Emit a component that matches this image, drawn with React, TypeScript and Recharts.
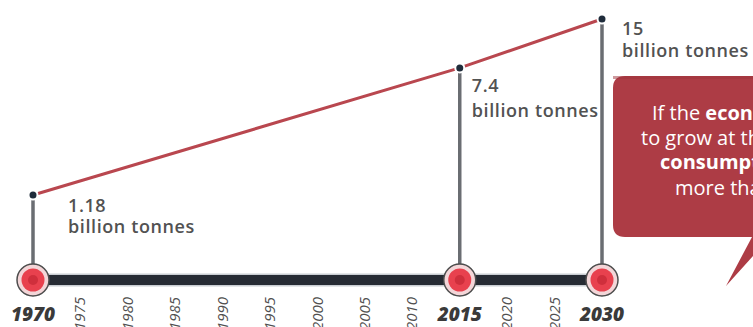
import { Customized, LabelList, Line, LineChart, ReferenceDot, ReferenceLine, XAxis, YAxis } from 'recharts'

const years = [1970, 2015, 2030]
const tonnes = [1.18, 7.4, 15]
const valueLabels = ['1.18', '7.4', '15']
const unitLabel = 'billion tonnes'
const tickYears = [1970, 1975, 1980, 1985, 1990, 1995, 2000, 2005, 2010, 2015, 2020, 2025, 2030]
const milestoneYears = [1970, 2015, 2030]
const calloutLines = [
	[{ t: 'If the ', b: false }, { t: 'economy continues', b: true }],
	[{ t: 'to grow at the current rate,', b: false }],
	[{ t: 'consumption will be', b: true }],
	[{ t: 'more than double', b: false }],
]

const data = years.map((year, i) => ({ year, tonnes: tonnes[i], label: valueLabels[i] }))

// log scale, the plot bottom sits on the timeline bar
const yMin = 0.3457
const yMax = 18.36

const labelOffsets = [
	{ dx: 35, dy1: 17, dy2: 38 },
	{ dx: 12, dy1: 24, dy2: 49 },
	{ dx: 20, dy1: 16, dy2: 38 },
]

const font = '"Open Sans", sans-serif'

const YearTick = (props: any) => {
	const { x, y, payload } = props
	const year = payload.value
	if (milestoneYears.includes(year)) {
		return (
			<text x={x} y={y + 41} textAnchor='middle' fontFamily={font} fontSize={19} fontWeight={800} fontStyle='italic' fill='#3a3a3a'>
				{year}
			</text>
		)
	}
	return (
		<text
			transform={`translate(${x + 5}, ${y + 17}) rotate(-90)`}
			textAnchor='end'
			fontFamily={font}
			fontSize={15}
			fontStyle='italic'
			fill='#505050'
		>
			{year}
		</text>
	)
}

const ValueLabel = (props: any) => {
	const { x, y, index } = props
	const o = labelOffsets[index]
	return (
		<g fontFamily={font} fontSize={18} fontWeight={600} fill='#525252' letterSpacing={0.6}>
			<text x={x + o.dx} y={y + o.dy1}>{valueLabels[index]}</text>
			<text x={x + o.dx} y={y + o.dy2}>{unitLabel}</text>
		</g>
	)
}

const PointDot = (props: any) => {
	const { cx, cy } = props
	return <circle cx={cx} cy={cy} r={4.5} fill='#1f2c3b' stroke='#ffffff' strokeWidth={2} />
}

const MilestoneMarker = (props: any) => {
	const { cx, cy } = props
	return (
		<g>
			<circle cx={cx} cy={cy} r={16} fill='#f3d6d8' stroke='#4d4d4d' strokeWidth={1.5} />
			<circle cx={cx} cy={cy} r={11.5} fill='#e8414e' />
			<circle cx={cx} cy={cy} r={5} fill='#cf2f3c' />
		</g>
	)
}

const Callout = () => {
	const starts = [652, 641, 660, 675]
	const baselines = [120, 145, 169, 195]
	return (
		<g>
			<path d='M625,76 H800 V237 H770 L726,286 L752,237 H625 Q613,237 613,225 V88 Q613,76 625,76 Z' fill='#ad3c45' />
			<rect x={613} y={76} width={200} height={3} fill='#9e343c' opacity={0.5} />
			{calloutLines.map((line, i) => (
				<text key={i} x={starts[i]} y={baselines[i]} fontFamily={font} fontSize={20} fill='#ffffff'>
					{line.map((part, j) => (
						<tspan key={j} fontWeight={part.b ? 700 : 400}>
							{part.t}
						</tspan>
					))}
				</text>
			))}
		</g>
	)
}

const App = () => {
	return (
		<div style={{ position: 'absolute', left: 0, top: 0, width: 753, height: 327, overflow: 'hidden', background: '#fff' }}>
			<LineChart width={753} height={327} data={data} margin={{ top: 5, right: 151, left: 33, bottom: 0 }}>
				<XAxis
					dataKey='year'
					type='number'
					domain={[1970, 2030]}
					ticks={tickYears}
					interval={0}
					height={47}
					axisLine={false}
					tickLine={false}
					tickSize={0}
					tickMargin={0}
					tick={<YearTick />}
				/>
				<YAxis type='number' scale='log' domain={[yMin, yMax]} allowDataOverflow hide />
				<ReferenceLine y={yMin} stroke='#c9cdd2' strokeWidth={13} ifOverflow='visible' />
				<ReferenceLine y={yMin} stroke='#262b33' strokeWidth={10} ifOverflow='visible' />
				{data.map((d) => (
					<ReferenceLine
						key={d.year}
						segment={[
							{ x: d.year, y: yMin },
							{ x: d.year, y: d.tonnes },
						]}
						stroke='#6a6d72'
						strokeWidth={3.5}
						ifOverflow='visible'
					/>
				))}
				{milestoneYears.map((year) => (
					<ReferenceDot key={year} x={year} y={yMin} r={16} shape={MilestoneMarker} ifOverflow='visible' />
				))}
				<Line
					type='linear'
					dataKey='tonnes'
					stroke='#b9474f'
					strokeWidth={3}
					dot={<PointDot />}
					activeDot={false}
					isAnimationActive={false}
				>
					<LabelList dataKey='label' content={<ValueLabel />} />
				</Line>
				<Customized component={<Callout />} />
			</LineChart>
		</div>
	)
}

export default App
